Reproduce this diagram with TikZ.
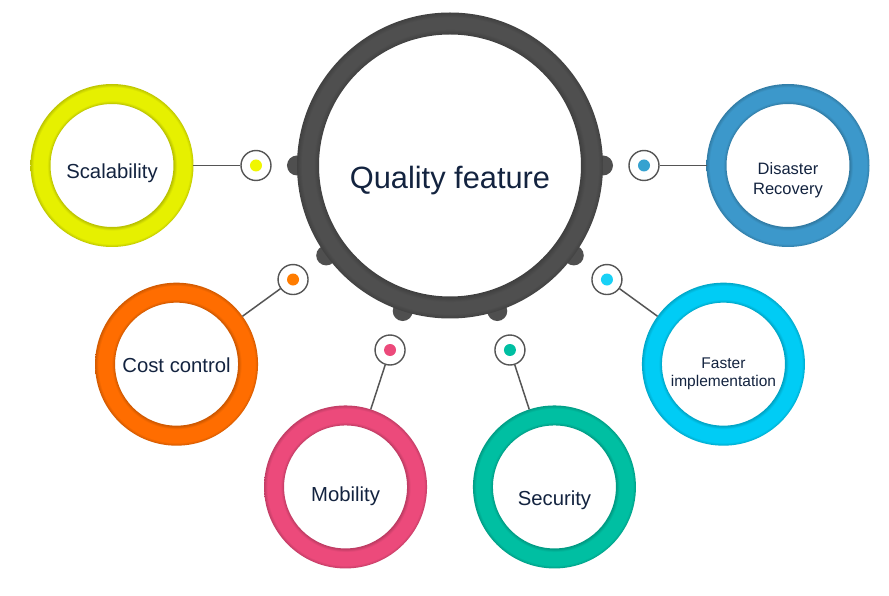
\documentclass[tikz,border=0pt]{standalone}
\usepackage{fontspec}
\setmainfont{Liberation Sans}
\usetikzlibrary{positioning}

\definecolor{QfHub}{HTML}{4F4F4F}
\definecolor{QfLine}{HTML}{555555}
\definecolor{QfText}{HTML}{13233F}
\definecolor{QfYellow}{HTML}{E6F000}
\definecolor{QfOrange}{HTML}{FF6D00}
\definecolor{QfPink}{HTML}{EC4A7B}
\definecolor{QfTeal}{HTML}{00BFA2}
\definecolor{QfCyan}{HTML}{00CCF5}
\definecolor{QfBlue}{HTML}{3C98CB}

% tube look for a ring: name, colour, inner edge, plateau start, plateau end
\newcommand{\ringshading}[5]{%
  \pgfdeclareradialshading{#1}{\pgfpointorigin}{%
    color(0bp)=(#2!80!black); color(#3)=(#2!80!black); color(#4)=(#2);
    color(#5)=(#2); color(25bp)=(#2!82!black); color(50bp)=(#2!82!black)}}
\ringshading{ringhub}{QfHub}{21.4bp}{22.3bp}{24.2bp}
\ringshading{ringylw}{QfYellow}{18.9bp}{19.9bp}{24.0bp}
\ringshading{ringorg}{QfOrange}{18.9bp}{19.9bp}{24.0bp}
\ringshading{ringpnk}{QfPink}{18.9bp}{19.9bp}{24.0bp}
\ringshading{ringtel}{QfTeal}{18.9bp}{19.9bp}{24.0bp}
\ringshading{ringcyn}{QfCyan}{18.9bp}{19.9bp}{24.0bp}
\ringshading{ringblu}{QfBlue}{18.9bp}{19.9bp}{24.0bp}

\tikzset{
    % Central ring
    hub/.style={
        circle,
        minimum size=306pt,
        inner sep=0pt,
        outer sep=0pt,
        path picture={\shade[shading=ringhub, even odd rule]
            (path picture bounding box.center) circle (153) circle (131);}
    },
    % Feature ring
    feature/.style={
        circle,
        minimum size=163pt,
        inner sep=0pt,
        outer sep=0pt,
        path picture={\shade[shading=#1, even odd rule]
            (path picture bounding box.center) circle (81.5) circle (61.5);}
    },
    % Small connector circle
    knob/.style={
        circle,
        draw=QfLine,
        line width=1.4pt,
        fill=white,
        minimum size=30pt,
        inner sep=0pt
    },
    % Connector line
    link/.style={
        draw=QfLine,
        line width=1.5pt
    },
    % Label text
    lbl/.style={
        text=QfText,
        anchor=base,
        font=\fontsize{20.3}{24}\selectfont
    },
    % Two-line label text (base = last line)
    lbltwo/.style={
        text=QfText,
        anchor=base,
        align=center,
        font=\fontsize{16.5}{20}\selectfont
    }
}

\begin{document}
\begin{tikzpicture}[x=1pt, y=1pt]
    \useasboundingbox (-450,-430.5) rectangle (439,165.5);

    % Bumps on the hub
    \foreach \a in {180,216,...,360}
        \fill[QfHub] (\a:153) circle (10);

    % Hub
    \node (qf) [hub] at (0,0) {};
    \node [lbl, font=\fontsize{30.8}{36}\selectfont] at ([yshift=-22.8pt]qf.center) {Quality feature};

    % Features
    \node (scal) [feature=ringylw] at (180:338) {};
    \node (cost) [feature=ringorg] at (216:338) {};
    \node (mob) [feature=ringpnk] at (252:338) {};
    \node (sec) [feature=ringtel] at (288:338) {};
    \node (fast) [feature=ringcyn] at (324:338) {};
    \node (dis) [feature=ringblu] at (0:338) {};

    % Knobs
    \node (scalk) [knob] at (180:194) {};
    \node (costk) [knob] at (216:194) {};
    \node (mobk) [knob] at (252:194) {};
    \node (seck) [knob] at (288:194) {};
    \node (fastk) [knob] at (324:194) {};
    \node (disk) [knob] at (0:194) {};

    \draw [link] (scalk) -- (scal);
    \draw [link] (costk) -- (cost);
    \draw [link] (mobk) -- (mob);
    \draw [link] (seck) -- (sec);
    \draw [link] (fastk) -- (fast);
    \draw [link] (disk) -- (dis);

    \fill [QfYellow!60!yellow] (scalk.center) circle (6);
    \fill [QfOrange!90!yellow] (costk.center) circle (6);
    \fill [QfPink] (mobk.center) circle (6);
    \fill [QfTeal] (seck.center) circle (6);
    \fill [QfCyan!90!white] (fastk.center) circle (6);
    \fill [QfBlue!90!cyan] (disk.center) circle (6);

    % Labels
    \node [lbl] at ([yshift=-13.5pt]scal.center) {Scalability};
    \node [lbl] at ([yshift=-8.7pt]cost.center) {Cost control};
    \node [lbl] at ([yshift=-14.7pt]mob.center) {Mobility};
    \node [lbl] at ([yshift=-19pt]sec.center) {Security};
    \node [lbltwo, font=\fontsize{15.5}{18.3}\selectfont] at ([yshift=-22.8pt]fast.center) {Faster\\implementation};
    \node [lbltwo] at ([yshift=-29.5pt]dis.center) {Disaster\\Recovery};
\end{tikzpicture}
\end{document}
